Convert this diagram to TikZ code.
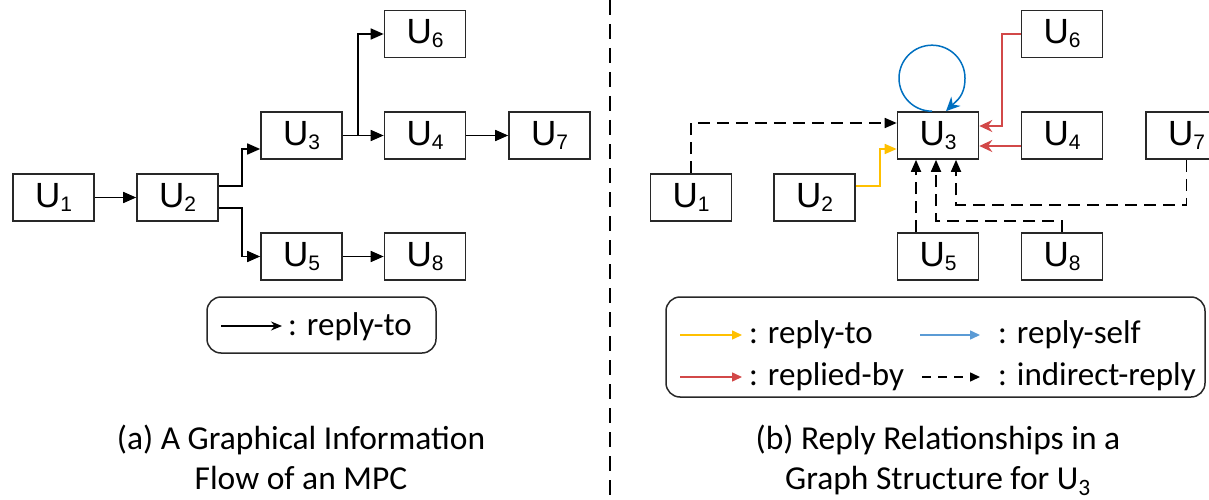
\documentclass[tikz,border=0pt]{standalone}
\usepackage{fontspec}
\setmainfont{Carlito}
\newfontfamily\boxfont{Liberation Sans}
\usetikzlibrary{positioning, calc, arrows.meta}
\definecolor{boxline}{RGB}{40, 40, 40}
\definecolor{replyyellow}{RGB}{255, 192, 0}
\definecolor{repliedred}{RGB}{210, 72, 72}
\definecolor{selfblue}{RGB}{0, 112, 192}
\definecolor{legendblue}{RGB}{91, 155, 213}

% U with a lowered index, as in the boxes
\newcommand{\usr}[1]{U\raisebox{-4pt}{\fontsize{21}{21}\selectfont #1}}

\tikzset{
    userbox/.style={
        draw=boxline, line width=1.6pt, fill=white,
        minimum width=81pt, minimum height=47pt, inner sep=0pt,
        font=\boxfont\fontsize{35}{40}\selectfont
    },
    flow/.style={
        -{Triangle[length=13pt,width=11pt]}, line width=1.7pt, black
    },
    legendbox/.style={
        draw=boxline, line width=1.5pt, rounded corners=14pt
    },
    legtext/.style={
        anchor=base west, inner sep=0pt, font=\fontsize{33}{40}\selectfont
    }
}

\begin{document}
\begin{tikzpicture}[
        x=1pt, y=-1pt,
        % Style cho cac canh mau
        replyto/.style={-{Triangle[length=12pt,width=10pt]}, line width=1.7pt, replyyellow},
        repliedby/.style={-{Stealth[length=13pt,width=12pt]}, line width=1.7pt, repliedred},
        selfloop/.style={-{Stealth[length=14pt,width=13pt]}, line width=1.5pt, selfblue},
        indirect/.style={-{Triangle[length=12pt,width=10pt]}, line width=1.7pt, dash pattern=on 12pt off 7pt},
        sepline/.style={line width=1.4pt, dash pattern=on 15pt off 9pt},
        caption/.style={align=center, anchor=base, inner sep=0pt, font=\fontsize{33.5}{40}\selectfont}
    ]
    \useasboundingbox (0,0) rectangle (1209,500);
    \clip (0,0) rectangle (1209,500);

    % ==========================================
    % (a) LUONG THONG TIN
    % ==========================================
    \node[userbox] (a1) at (53.5,197.5) {\usr{1}};
    \node[userbox] (a2) at (177.5,197.5) {\usr{2}};
    \node[userbox] (a3) at (301.5,135.5) {\usr{3}};
    \node[userbox] (a4) at (425,135.5) {\usr{4}};
    \node[userbox] (a7) at (549.5,135.5) {\usr{7}};
    \node[userbox] (a6) at (425,34) {\usr{6}};
    \node[userbox] (a5) at (301.5,256.5) {\usr{5}};
    \node[userbox] (a8) at (425,256.5) {\usr{8}};

    \draw[flow] (a1) -- (a2);
    \draw[flow] ([yshift=11.5pt]a2.east) -- ++(23,0) |- ([yshift=-13.5pt]a3.west);
    \draw[flow] ([yshift=-10.5pt]a2.east) -- ++(23,0) |- (a5.west);
    \draw[flow] (a3) -- (a4);
    \draw[flow] (a3.east) -- ++(15,0) |- (a6.west);
    \draw[flow] (a4) -- (a7);
    \draw[flow] (a5) -- (a8);

    % Chu thich (a)
    \draw[legendbox] (207,297) rectangle (436,353);
    \coordinate (legAs) at (221,326);
    \coordinate (legAe) at (282,326);
    \draw[-{Stealth[length=11pt,width=9pt]}, line width=1.4pt] (legAs) -- (legAe);
    \node[legtext] (legA) at (288,335) {: reply-to};

    \node[caption] (capA) at (301,489) {(a) A Graphical Information\\Flow of an MPC};

    % Duong phan cach
    \draw[sepline] (610,0) -- (610,500);

    % ==========================================
    % (b) QUAN HE TRA LOI CUA U3
    % ==========================================
    \node[userbox] (b1) at (691,197.5) {\usr{1}};
    \node[userbox] (b2) at (814.5,197.5) {\usr{2}};
    \node[userbox] (b3) at (938,135.5) {\usr{3}};
    \node[userbox] (b4) at (1062,135.5) {\usr{4}};
    \node[userbox] (b6) at (1062,34) {\usr{6}};
    \node[userbox] (b7) at (1186.5,135.5) {\usr{7}};
    \node[userbox] (b5) at (938,256.5) {\usr{5}};
    \node[userbox] (b8) at (1062,256.5) {\usr{8}};

    % reply-to va replied-by
    \draw[replyto] ([yshift=11.5pt]b2.east) -- ++(24,0) |- ([yshift=-13.5pt]b3.west);
    \draw[repliedby] (b6.west) -- ++(-19,0) |- ([yshift=9.5pt]b3.east);
    \draw[repliedby] ([yshift=-10.5pt]b4.west) -- ([yshift=-10.5pt]b3.east);

    % reply-self
    \draw[selfloop] ([xshift=-6pt]b3.north) arc[start angle=90, end angle=360, radius=33]
        .. controls +(0,18) and +(10,-10) .. ([xshift=8pt]b3.north);

    % indirect-reply
    \draw[indirect] (b1.north) |- ([yshift=12.5pt]b3.west);
    \draw[indirect] ([xshift=-22pt]b5.north) -- ([xshift=-22pt]b3.south);
    \draw[indirect] (b8.north) -- ++(0,-11) -| ([xshift=-2pt]b3.south);
    \draw[indirect] (b7.south) -- ++(0,45) -| ([xshift=18pt]b3.south);

    % Chu thich (b)
    \draw[legendbox] (666,297) rectangle (1205,397);
    \coordinate (legBs1) at (680,335);  \coordinate (legBe1) at (742,335);
    \coordinate (legBs2) at (920,335);  \coordinate (legBe2) at (980,335);
    \coordinate (legBs3) at (680,377);  \coordinate (legBe3) at (742,377);
    \coordinate (legBs4) at (922,377);  \coordinate (legBe4) at (980,377);
    \draw[-{Triangle[length=10pt,width=9pt]}, line width=1.5pt, replyyellow] (legBs1) -- (legBe1);
    \draw[-{Triangle[length=10pt,width=9pt]}, line width=1.5pt, legendblue] (legBs2) -- (legBe2);
    \draw[-{Triangle[length=10pt,width=9pt]}, line width=1.5pt, repliedred] (legBs3) -- (legBe3);
    \draw[-{Triangle[length=10pt,width=9pt]}, line width=1.5pt, dash pattern=on 9pt off 7pt] (legBs4) -- (legBe4);
    \node[legtext] (legB1) at (749,343) {: reply-to};
    \node[legtext] (legB2) at (998,343) {: reply-self};
    \node[legtext] (legB3) at (749,385) {: replied-by};
    \node[legtext] (legB4) at (998,385) {: indirect-reply};

    \node[caption] (capB) at (938,489) {(b) Reply Relationships in a\\Graph Structure for U\textsubscript{3}};

\end{tikzpicture}
\end{document}
